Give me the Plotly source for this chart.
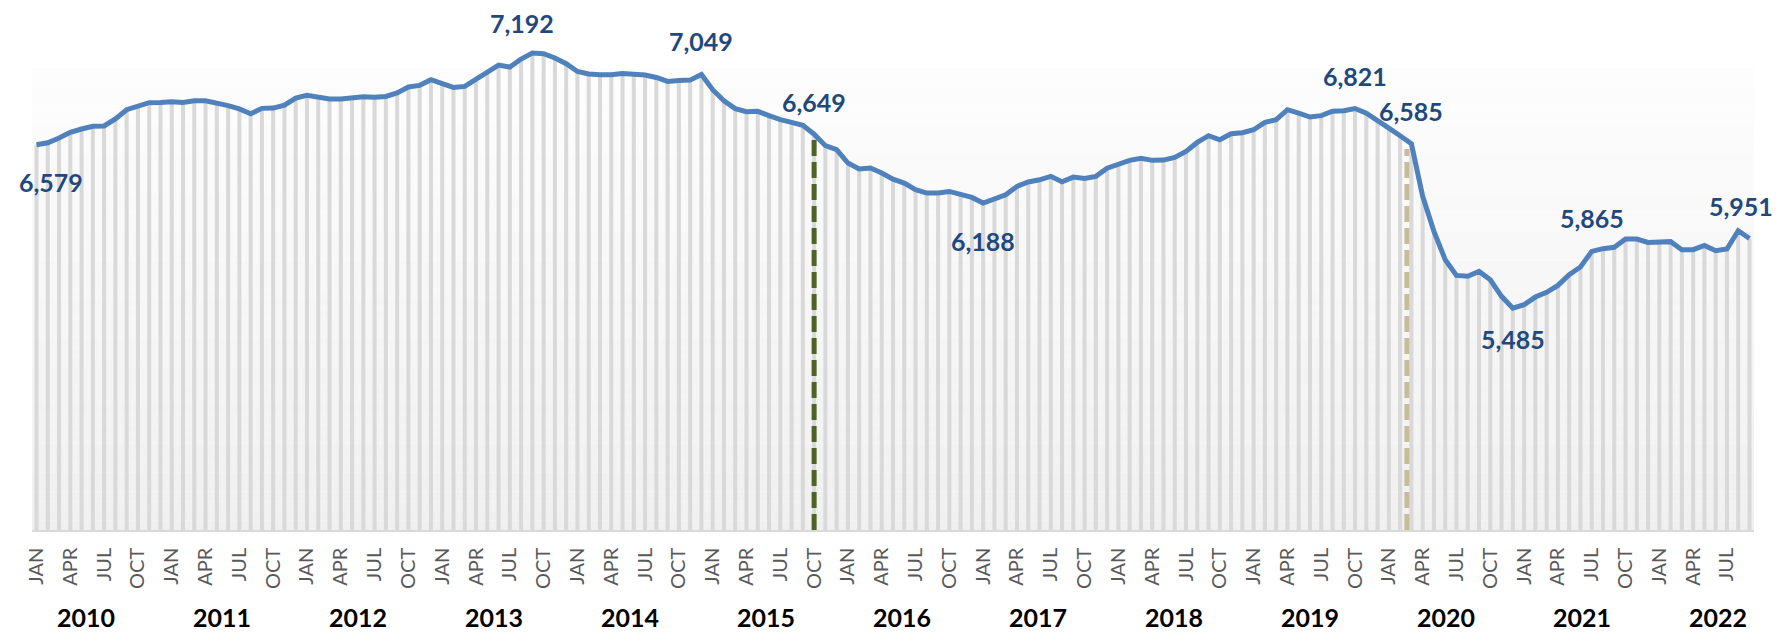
import plotly.graph_objects as go

# ---------------- data ----------------
years = list(range(2010, 2023))
month_names = ["JAN", "FEB", "MAR", "APR", "MAY", "JUN",
               "JUL", "AUG", "SEP", "OCT", "NOV", "DEC"]
tick_months = ["JAN", "APR", "JUL", "OCT"]

values = [
    6579, 6592, 6624, 6662, 6684, 6702, 6704, 6751, 6813, 6840, 6860, 6862,   # 2010
    6867, 6862, 6873, 6873, 6858, 6840, 6818, 6786, 6822, 6824, 6844, 6891,   # 2011
    6909, 6896, 6885, 6885, 6896, 6900, 6896, 6902, 6925, 6965, 6976, 7014,   # 2012
    6987, 6962, 6969, 7018, 7069, 7112, 7098, 7152, 7192, 7188, 7159, 7121,   # 2013
    7069, 7052, 7047, 7047, 7056, 7052, 7045, 7029, 7002, 7009, 7011, 7049,   # 2014
    6947, 6873, 6820, 6800, 6802, 6773, 6746, 6728, 6708, 6649, 6572, 6545,   # 2015
    6456, 6416, 6423, 6389, 6348, 6322, 6278, 6255, 6255, 6266, 6249, 6226,   # 2016
    6188, 6217, 6244, 6300, 6329, 6344, 6367, 6331, 6362, 6353, 6367, 6422,   # 2017
    6451, 6474, 6487, 6474, 6476, 6494, 6534, 6594, 6639, 6612, 6652, 6659,   # 2018
    6679, 6728, 6746, 6813, 6790, 6764, 6773, 6803, 6806, 6821, 6790, 6735,   # 2019
    6690, 6639, 6585, 6233, 5999, 5809, 5704, 5698, 5731, 5675, 5564, 5485,   # 2020
    5508, 5559, 5591, 5637, 5709, 5760, 5865, 5883, 5892, 5947, 5947, 5925,   # 2021
    5925, 5930, 5876, 5876, 5905, 5869, 5881, 6003, 5951,                     # 2022
]

# month categories (Jan 2010 .. Sep 2022)
categories = [f"{m} {y}" for y in years for m in month_names][:len(values)]

# labelled points: category -> (x shift px, y shift px)
labelled = {
    "JAN 2010": (14, -37),
    "SEP 2013": (-10, 30),
    "DEC 2014": (0, 33),
    "OCT 2015": (0, 32),
    "JAN 2017": (0, -38),
    "OCT 2019": (0, 33),
    "MAR 2020": (0, 33),
    "DEC 2020": (0, -31),
    "JUL 2021": (0, 33),
    "SEP 2022": (-8, 33),
}

# reference lines (category, colour)
events = [("OCT 2015", "#4F6228"), ("MAR 2020", "#C4BD97")]

# ---------------- figure ----------------
x = list(range(len(values)))
idx = {c: i for i, c in enumerate(categories)}
Y0, Y1 = 4000, 7400
XL, XR = -0.4, len(values) - 0.6

fig = go.Figure()

# plot-area gradient background (bands drawn below traces)
n_bands = 48
top_bg = 7090
c0, c1 = 0xF0, 0xFD
for b in range(n_bands):
    ya = Y0 + (top_bg - Y0) * b / n_bands
    yb = Y0 + (top_bg - Y0) * (b + 1) / n_bands
    c = round(c0 + (c1 - c0) * (b + 0.5) / n_bands)
    fig.add_shape(type="rect", xref="x", yref="y", x0=XL, x1=XR, y0=ya, y1=yb,
                  fillcolor=f"rgb({c},{c},{c})", line=dict(width=0), layer="below")

# striped bars
fig.add_trace(go.Bar(
    x=x, y=values, width=0.36, marker=dict(color="#d9d9d9", line=dict(width=0)),
    hoverinfo="skip", showlegend=False))

# dashed event lines
for cat, col in events:
    i = idx[cat]
    xi = i if cat == "OCT 2015" else i - 0.4
    top = values[i] if cat == "OCT 2015" else values[i] - 35
    fig.add_trace(go.Scatter(
        x=[xi, xi], y=[Y0, top], mode="lines",
        line=dict(color=col, width=5, dash="16px,6px"),
        hoverinfo="skip", showlegend=False))

# main line
fig.add_trace(go.Scatter(
    x=x, y=values, mode="lines",
    line=dict(color="#4F81BD", width=5),
    hoverinfo="skip", showlegend=False))

# data labels
for cat, (xs, ys) in labelled.items():
    i = idx[cat]
    fig.add_annotation(
        x=i, y=values[i], text=f"{values[i]:,}", showarrow=False,
        xshift=xs, yshift=ys, xanchor="center", yanchor="middle",
        font=dict(family="Lato", size=25, color="#1F497D", weight="bold"))

# year labels
for k, yr in enumerate(years):
    fig.add_annotation(
        x=4.4 + 12.07 * k, y=0, xref="x", yref="paper",
        text=str(yr), showarrow=False, yshift=-87, borderpad=0,
        xanchor="center", yanchor="middle",
        font=dict(family="Lato", size=25, color="#000000", weight="bold"))

tickvals = [i for i, c in enumerate(categories) if c.split()[0] in tick_months]
ticktext = [categories[i].split()[0] for i in tickvals]

fig.update_layout(
    width=1781, height=633,
    margin=dict(l=24, r=35, t=14, b=111),
    paper_bgcolor="white", plot_bgcolor="white",
    barmode="overlay", showlegend=False,
    xaxis=dict(range=[XL, XR], tickmode="array",
               tickvals=tickvals, ticktext=ticktext, tickangle=-90,
               tickfont=dict(family="Lato", size=20, color="#595959"),
               showgrid=False, zeroline=False, showline=True,
               linecolor="#d9d9d9", linewidth=1.5, ticks="",
               ticklabelstandoff=8),
    yaxis=dict(range=[Y0, Y1], showgrid=False, zeroline=False,
               showticklabels=False, showline=False),
)

fig.write_html("out.html")
